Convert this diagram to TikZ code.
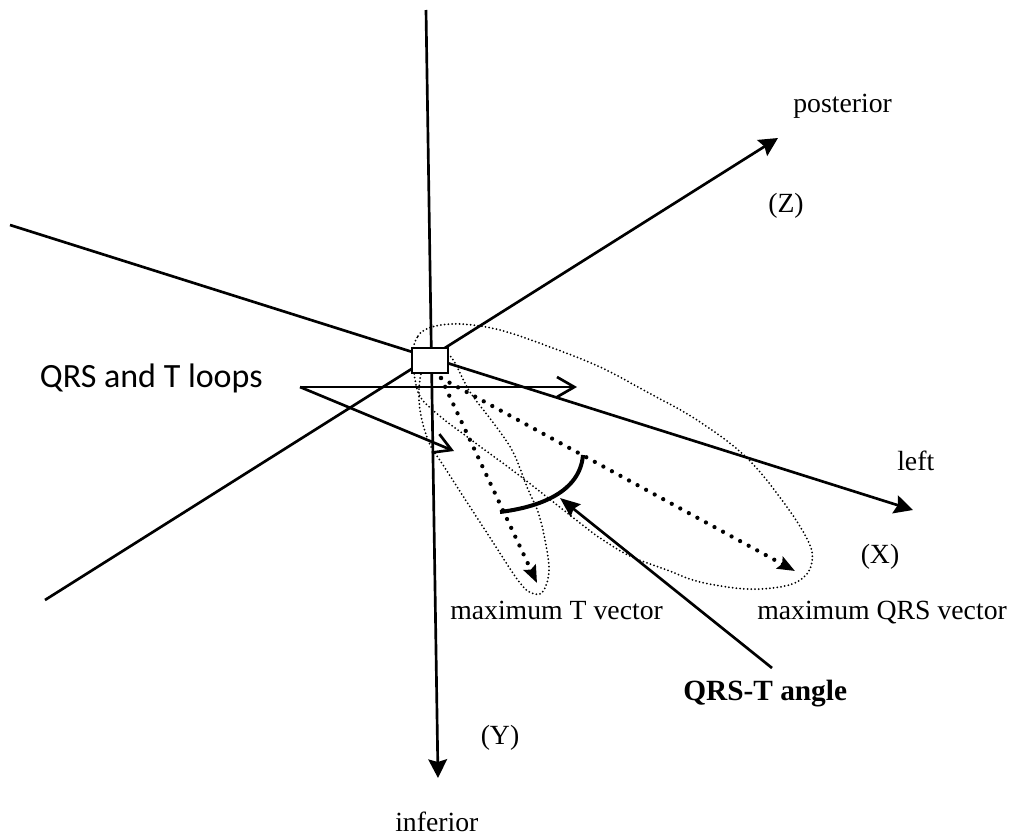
\documentclass[tikz,border=0pt]{standalone}
\usepackage{fontspec}
\setmainfont{Liberation Serif}
\newfontfamily\calib{Carlito}
\usetikzlibrary{arrows.meta}
\begin{document}
\begin{tikzpicture}[x=0.75pt,y=-0.75pt,
  axisline/.style={line width=2pt,-{Stealth[length=14pt,width=14pt,inset=2pt]}},
  thinloop/.style={line width=1.5pt,dash pattern=on 0pt off 2.8pt,line cap=round},
  bigdots/.style={line width=3.2pt,dash pattern=on 0pt off 7.3pt,line cap=round,-{Stealth[length=13pt,width=10pt,inset=2pt]}},
  barb/.style={line width=2pt,-{Straight Barb[length=13pt,width=15pt]}},
  pointer/.style={line width=2pt,-{Stealth[length=15pt,width=12pt,inset=2pt]}},
  arcst/.style={line width=3pt},
  boxst/.style={draw,line width=1.5pt,fill=white,minimum width=27pt,minimum height=18.75pt,inner sep=0pt},
  lab/.style={inner sep=0pt,font=\fontsize{20.8}{24}\selectfont},
  blab/.style={inner sep=0pt,font=\fontsize{22}{26}\selectfont\bfseries},
  slab/.style={inner sep=0pt,font=\calib\fontsize{25.5}{30}\selectfont}]
\useasboundingbox (0,0) rectangle (1014,836);
% axis end points
\coordinate (ytop) at (426,10);
\coordinate (ybot) at (438,778);
\coordinate (xl) at (10,225);
\coordinate (xr) at (913,510);
\coordinate (zl) at (45,600);
\coordinate (zr) at (778,138);
% axes
\draw[axisline] (ytop) -- (ybot);
\draw[axisline] (xl) -- (xr);
\draw[axisline] (zl) -- (zr);
% loops
\draw[thinloop] plot[smooth cycle,tension=0.6] coordinates {
 (413,355) (418,336) (432,327) (460,324) (500,330) (550,347) (600,367)
 (647,392) (697,420) (747,458) (787,507) (809,543) (812,562) (804,577)
 (785,586) (747,589) (700,582) (667,570) (630,556) (600,538) (580,523)
 (520,476) (470,439) (435,412) (418,392)};
\draw[thinloop] plot[smooth cycle,tension=0.6] coordinates {
 (425,362) (448,354) (470,392) (495,425) (513,452) (527,487) (538,512)
 (545,540) (549,570) (544,590) (535,594) (520,583) (487,533) (445,468)
 (428,440) (419,400)};
% centre box
\node[boxst] (box) at (430,360.5) {};
% vectors
\coordinate (o) at (441,378);
\coordinate (tmax) at (537,583);
\coordinate (qmax) at (795,571);
\draw[bigdots] (o) -- (tmax);
\draw[bigdots] (o) -- (qmax);
% angle arc
\draw[arcst] (500,512) .. controls (540,507) and (580,492) .. (583,455);
% labels
\node[lab,anchor=base west] (post) at (793,112) {posterior};
\node[lab] (zl) at (786,206) {(Z)};
\node[lab,anchor=base west] (left) at (897,470) {left};
\node[lab] (xlab) at (880,557) {(X)};
\node[lab,anchor=base west] (mq) at (757,619) {maximum QRS vector};
\node[lab,anchor=base west] (mt) at (450,619) {maximum T vector};
\node[blab,anchor=base west] (ang) at (683,700) {QRS-T angle};
\node[lab] (ylab) at (500,738) {(Y)};
\node[lab,anchor=base west] (inf) at (395,831) {inferior};
\node[slab,anchor=base east] (loops) at (263,387) {QRS and T loops};
% pointer to angle
\coordinate (ptail) at (772,668);
\coordinate (ptip) at (560,498);
\draw[pointer] (ptail) -- (ptip);
% loop arrows
\coordinate (lstart) at (300,387);
\coordinate (lq) at (577,387);
\coordinate (lt) at (454,451);
\draw[barb] (lstart) -- (lq);
\draw[barb] (lstart) -- (lt);
\end{tikzpicture}
\end{document}
